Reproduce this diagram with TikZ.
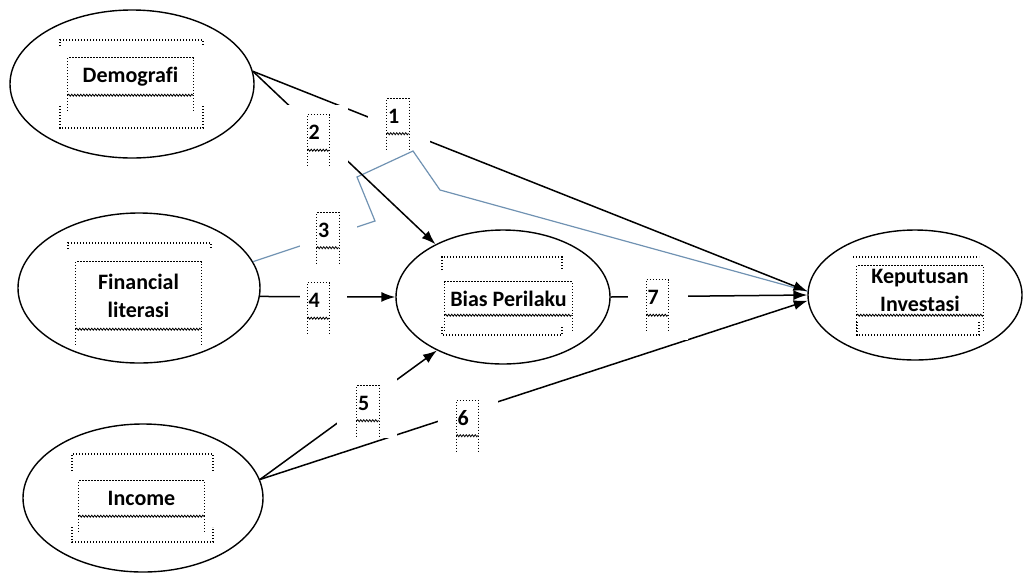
\documentclass[tikz,border=0pt]{standalone}
\usepackage{fontspec}
\setmainfont{Carlito}[Ligatures=NoCommon]
\usetikzlibrary{arrows.meta, shapes.geometric, decorations.pathmorphing}
\definecolor{linkblue}{RGB}{112,146,178}

\begin{document}
\begin{tikzpicture}[
    x=1pt, y=-1pt,
    var/.style={draw, ellipse, line width=1.4pt, inner sep=0pt},
    txtbox/.style={inner sep=0pt, minimum width=125pt, align=center, font=\fontsize{22}{28}\selectfont\bfseries},
    numbox/.style={inner sep=1pt, minimum width=22pt, minimum height=35pt, text width=20pt, align=left, font=\fontsize{22}{24}\selectfont\bfseries},
    gap/.style={fill=white, inner sep=0pt},
    dots/.style={line width=1.1pt, dash pattern=on 1.1pt off 1.9pt},
    wavy/.style={line width=0.8pt, decorate, decoration={snake, amplitude=1pt, segment length=3pt}},
    arrow/.style={-{Latex[length=14pt, width=10pt]}, line width=1.5pt},
    bluelink/.style={linkblue, line width=1.2pt}
]
\useasboundingbox (0,0) rectangle (1024,574);

% variables
\node[var, minimum width=244pt, minimum height=148pt] (dem) at (132,84) {};
\node[var, minimum width=242pt, minimum height=150pt] (fin) at (139,288) {};
\node[var, minimum width=240pt, minimum height=148pt] (inc) at (143,498) {};
\node[var, minimum width=214pt, minimum height=134pt] (bias) at (503,297) {};
\node[var, minimum width=214pt, minimum height=130pt] (kep) at (915,295) {};

% paths
\draw[bluelink] (fin.13) -- (375,221) -- (357,177) -- (413,151) -- (440,190) -- (kep.178);
\draw[arrow] (dem.6) -- (kep.178);
\draw[arrow] (dem.6) -- (bias.142);
\draw[arrow] (fin.-4) -- (bias.west);
\draw[arrow] (inc.9) -- (bias.219);
\draw[arrow] (inc.9) -- (kep.183);
\draw[arrow] (bias.east) -- (kep.west);

% text boxes cut the lines
\node[gap, minimum width=62pt, minimum height=46pt] (gap1) at (399,123) {};
\node[gap, minimum width=63pt, minimum height=65pt] (gap2) at (316.5,137.5) {};
\node[gap, minimum width=57pt, minimum height=56pt] (gap3) at (328.5,233) {};
\node[gap, minimum width=47pt, minimum height=65pt] (gap4) at (323.5,307) {};
\node[gap, minimum width=60pt, minimum height=63pt] (gap5) at (367,406.5) {};
\node[gap, minimum width=60pt, minimum height=60pt] (gap6) at (468,425) {};
\node[gap, minimum width=60pt, minimum height=65pt] (gap7) at (658,307.5) {};

\node[numbox] (n1) at (398,116) {1};
\node[numbox] (n2) at (318.5,132.5) {2};
\node[numbox] (n3) at (328,230) {3};
\node[numbox] (n4) at (318.5,300.5) {4};
\node[numbox] (n5) at (368,403) {5};
\node[numbox] (n6) at (467.5,418) {6};
\node[numbox] (n7) at (657.5,297.5) {7};

\node[txtbox, minimum height=37pt] (demtxt) at (130.5,76.5) {Demografi};
\node[txtbox, minimum height=67pt] (fintxt) at (138.5,295.5) {Financial\\literasi};
\node[txtbox, minimum height=35pt] (inctxt) at (141.5,498.5) {Income};
\node[txtbox, minimum width=127pt, minimum height=33pt] (biastxt) at (508.5,298.5) {Bias Perilaku};
\node[txtbox, minimum width=126pt, minimum height=49pt] (keptxt) at (920,290.5) {Keputusan\\Investasi};

\foreach \b in {demtxt,fintxt,inctxt,biastxt,keptxt,n1,n2,n3,n4,n5,n6,n7} {
  \draw[dots] (\b.south west) -- (\b.north west) -- (\b.north east) -- (\b.south east);
  \draw[wavy] (\b.south west) -- (\b.south east);
  \draw[dots] (\b.south west) -- ++(0,16);
  \draw[dots] (\b.south east) -- ++(0,16);
}

% outer frames
\draw[dots] (60,46) -- (60,40) -- (203,40) -- (203,46);
\draw[dots] (60,106) -- (60,128) -- (203,128) -- (203,106);
\draw[dots] (68,249) -- (68,243) -- (211,243) -- (211,249);
\draw[dots] (72,471) -- (72,454) -- (213,454) -- (213,471);
\draw[dots] (72,527) -- (72,542) -- (213,542) -- (213,527);
\draw[dots] (442,270) -- (442,257) -- (562,257) -- (562,270);
\draw[dots] (442,327) -- (442,335) -- (562,335) -- (562,327);
\draw[dots] (853,257) -- (979,257);
\draw[dots] (857,322) -- (857,335) -- (979,335) -- (979,322);
\end{tikzpicture}
\end{document}
